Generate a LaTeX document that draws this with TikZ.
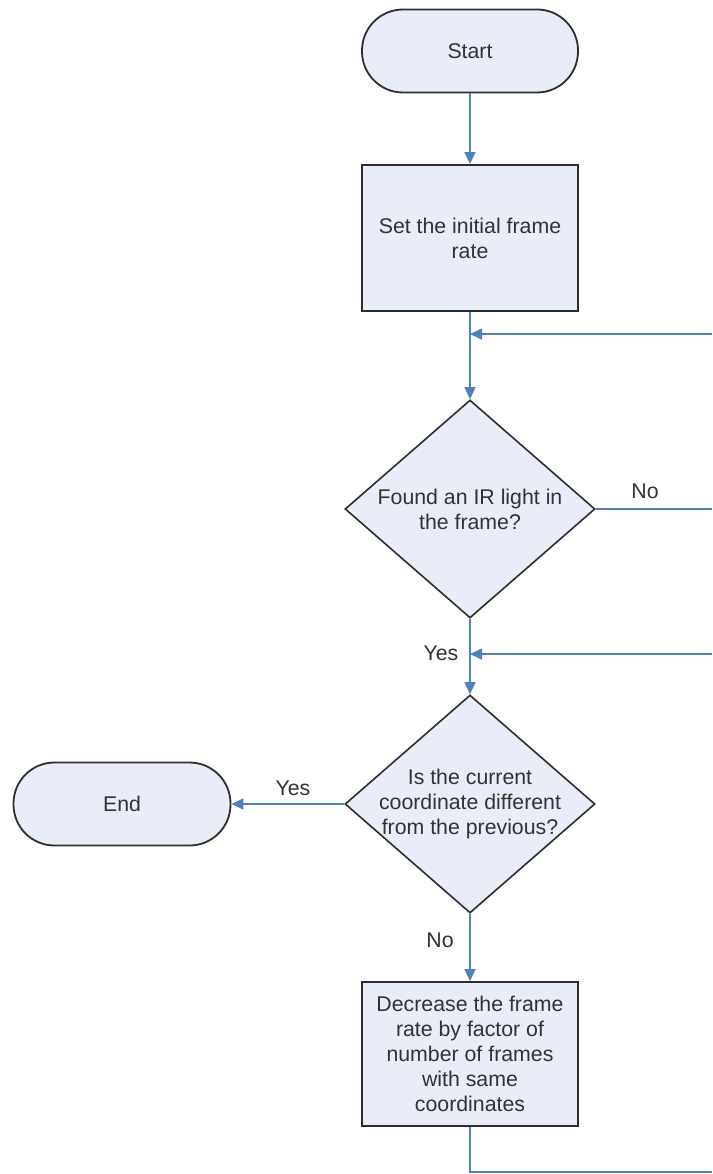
\documentclass[tikz,border=0pt]{standalone}
\usepackage{fontspec}
\setmainfont{Liberation Sans}
\usetikzlibrary{arrows.meta,shapes.geometric}
\definecolor{fillc}{RGB}{232,237,247}
\definecolor{linec}{RGB}{79,129,189}
\definecolor{borderc}{RGB}{45,45,45}
\definecolor{textc}{RGB}{50,50,50}
\tikzset{
  every node/.style={font=\fontsize{21.3}{25}\selectfont, text=textc},
  terminal/.style={draw=borderc, fill=fillc, line width=1.8pt, rectangle, rounded corners=41pt,
    minimum width=216pt, minimum height=83pt, inner sep=0pt},
  process/.style={draw=borderc, fill=fillc, line width=1.8pt, rectangle,
    minimum width=216pt, align=center, inner sep=0pt},
  decision/.style={draw=borderc, fill=fillc, line width=1.6pt, diamond, inner sep=0pt,
    minimum width=250pt, minimum height=218pt},
  dtext/.style={align=center, inner sep=0pt},
  conn/.style={draw=linec, line width=1.6pt, -{Triangle[length=12pt,width=11pt]}},
  plain/.style={draw=linec, line width=1.6pt},
  lbl/.style={anchor=base, inner sep=0pt}
}
\begin{document}
\begin{tikzpicture}[x=1pt,y=-1pt]
\useasboundingbox (0,0) rectangle (712,1174);
% nodes
\node[terminal] (start) at (470,51) {Start};
\node[process, minimum height=146pt] (box1) at (470,238) {Set the initial frame\\rate};
\node[decision] (d1) at (470,509) {};
\node[dtext] (d1t) at (d1.center) {Found an IR light in\\the frame?};
\node[decision] (d2) at (470,804) {};
\node[dtext] (d2t) at (d2.center) {Is the current\\coordinate different\\from the previous?};
\node[terminal, minimum width=217pt] (end) at (122,804) {End};
\node[process, minimum height=144pt] (box2) at (470,1054) {Decrease the frame\\rate by factor of\\number of frames\\with same\\coordinates};
% free ends at the right edge
\coordinate (r1) at (712,334);
\coordinate (r2) at (712,509);
\coordinate (r3) at (712,654);
\coordinate (r4) at (712,1172);
% connectors
\draw[conn] (start.south) -- (box1.north);
\draw[conn] (box1.south) -- (d1.north);
\draw[conn] (r1) -- (box1.south |- r1);
\draw[plain] (d1.east) -- (r2);
\draw[conn] (d1.south) -- (d2.north);
\draw[conn] (r3) -- (d1.south |- r3);
\draw[conn] (d2.west) -- (end.east);
\draw[conn] (d2.south) -- (box2.north);
\draw[plain] (box2.south) |- (r4);
% labels
\node[lbl] (lno1) at (645,498) {No};
\node[lbl] (lyes1) at (441,660) {Yes};
\node[lbl] (lyes2) at (293,795) {Yes};
\node[lbl] (lno2) at (440,947) {No};
\end{tikzpicture}
\end{document}
